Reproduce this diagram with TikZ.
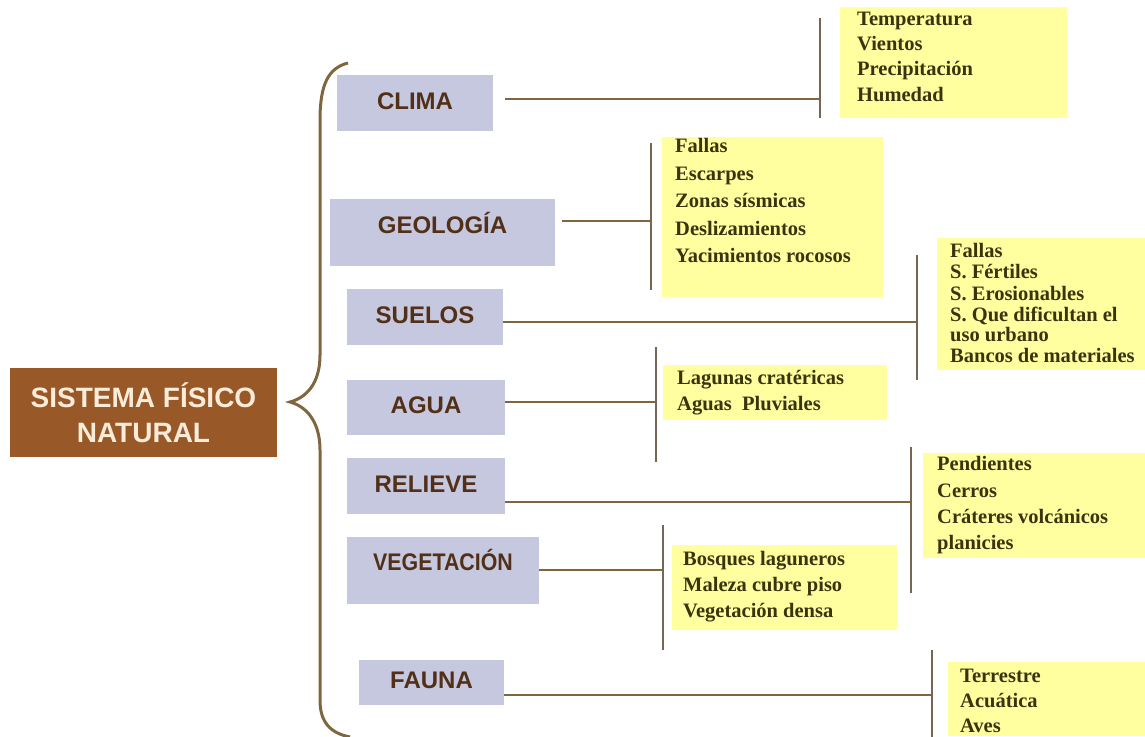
\documentclass[tikz,border=0pt]{standalone}
\usepackage{graphicx}
\usepackage{fontspec}
\setmainfont{Liberation Serif}
\setsansfont{Liberation Sans}
\usepackage{tikz}
\usetikzlibrary{positioning}
\definecolor{cafe}{RGB}{152,88,40}
\definecolor{crema}{RGB}{250,236,216}
\definecolor{lavanda}{RGB}{198,200,224}
\definecolor{amarillo}{RGB}{255,255,160}
\definecolor{linea}{RGB}{128,102,62}
\definecolor{gris}{RGB}{118,102,86}
\definecolor{tcat}{RGB}{82,48,24}
\definecolor{tlista}{RGB}{58,52,14}
\tikzset{
    principal/.style={fill=cafe, text=crema, font=\sffamily\bfseries\fontsize{28}{35}\selectfont, align=center, inner sep=0pt},
    categoria/.style={fill=lavanda, text=tcat, font=\sffamily\bfseries\fontsize{24}{28}\selectfont, text height=17pt, text depth=5pt, inner sep=0pt},
    caja/.style={fill=amarillo, anchor=north west, inner sep=0pt},
    lista/.style={text=tlista, align=left, anchor=north west, inner sep=0pt},
    conector/.style={draw=linea, line width=2.6pt},
    barra/.style={draw=gris, line width=2.6pt},
}
\newcommand{\lfont}[1]{\bfseries\fontsize{20.5}{#1}\selectfont}
\begin{document}
\begin{tikzpicture}[x=1pt, y=-1pt]
            \useasboundingbox (0,0) rectangle (1145,736);

            \node[principal, minimum width=267pt, minimum height=89pt] (sistema) at (143.5,412.5) {SISTEMA F\'ISICO\\NATURAL};

            \draw[linea, line width=3pt] (348,63) .. controls (328,68) and (320,85) .. (320,120) -- (320,355)
                .. controls (320,385) and (305,398) .. (290,402) .. controls (305,406) and (320,420) .. (320,450)
                -- (320,700) .. controls (320,722) and (330,733) .. (350,737);

            \node[categoria, minimum width=156pt, minimum height=56pt] (clima) at (415,103) {CLIMA};
            \node[categoria, minimum width=225pt, minimum height=67pt, text depth=15pt] (geologia) at (442.5,232.5) {GEOLOG\'IA};
            \node[categoria, minimum width=156pt, minimum height=56pt] (suelos) at (425,317) {SUELOS};
            \node[categoria, minimum width=158pt, minimum height=55pt] (agua) at (426,407.5) {AGUA};
            \node[categoria, minimum width=158pt, minimum height=56pt] (relieve) at (426,486) {RELIEVE};
            \node[categoria, minimum width=192pt, minimum height=67pt, text depth=17pt] (vegetacion) at (443,570.5) {\scalebox{0.89}[1]{VEGETACI\'ON}};
            \node[categoria, minimum width=145pt, minimum height=45pt] (fauna) at (431.5,682.5) {FAUNA};

            \node[caja, minimum width=227pt, minimum height=111pt] (climaC) at (840,7) {};
            \node[caja, minimum width=221pt, minimum height=160pt] (geologiaC) at (662,137) {};
            \node[caja, minimum width=208pt, minimum height=132pt] (suelosC) at (937,238) {};
            \node[caja, minimum width=224pt, minimum height=55pt] (aguaC) at (663,365) {};
            \node[caja, minimum width=222pt, minimum height=105pt] (relieveC) at (923,453) {};
            \node[caja, minimum width=225pt, minimum height=85pt] (vegetacionC) at (672,545) {};
            \node[caja, minimum width=197pt, minimum height=74pt] (faunaC) at (948,662) {};

            \node[lista, font=\lfont{25.3}] (climaT) at (857,11.5) {Temperatura\\Vientos\\Precipitaci\'on\\Humedad};
            \node[lista, font=\lfont{27.5}] (geologiaT) at (675,138.5) {Fallas\\Escarpes\\Zonas s\'ismicas\\Deslizamientos\\Yacimientos rocosos};
            \node[lista, font=\lfont{21.5}] (suelosT) at (950,243) {Fallas\\S. F\'ertiles\\S. Erosionables\\S. Que dificultan el\\[-2pt]uso urbano\\Bancos de materiales};
            \node[lista, font=\lfont{26}] (aguaT) at (677,370.5) {Lagunas crat\'ericas\\Aguas\ \ Pluviales};
            \node[lista, font=\lfont{26.3}] (relieveT) at (937,456.5) {Pendientes\\Cerros\\Cr\'ateres volc\'anicos\\planicies};
            \node[lista, font=\lfont{26}] (vegetacionT) at (683,551.5) {Bosques laguneros\\Maleza cubre piso\\Vegetaci\'on densa};
            \node[lista, font=\lfont{25}] (faunaT) at (960,668.5) {Terrestre\\Acu\'atica\\Aves};

            \coordinate (climaA) at (820,18);
            \coordinate (climaB) at (820,118);
            \coordinate (climaJ) at (820,99);
            \coordinate (geologiaA) at (651,143);
            \coordinate (geologiaB) at (651,290);
            \coordinate (geologiaJ) at (651,221);
            \coordinate (suelosA) at (917,255);
            \coordinate (suelosB) at (917,380);
            \coordinate (suelosJ) at (917,322);
            \coordinate (aguaA) at (656,347);
            \coordinate (aguaB) at (656,462);
            \coordinate (aguaJ) at (656,402);
            \coordinate (relieveA) at (911,447);
            \coordinate (relieveB) at (911,593);
            \coordinate (relieveJ) at (911,502);
            \coordinate (vegetacionA) at (663,525);
            \coordinate (vegetacionB) at (663,650);
            \coordinate (vegetacionJ) at (663,570);
            \coordinate (faunaA) at (932,650);
            \coordinate (faunaB) at (932,740);
            \coordinate (faunaJ) at (932,695);

            \foreach \c in {clima,geologia,suelos,agua,relieve,vegetacion,fauna}
                \draw[barra] (\c A) -- (\c B);

            \draw[conector, shorten <=12pt] (clima.east |- climaJ) -- (climaJ);
            \draw[conector, shorten <=7pt] (geologia.east |- geologiaJ) -- (geologiaJ);
            \draw[conector] (suelos.east |- suelosJ) -- (suelosJ);
            \draw[conector] (agua.east |- aguaJ) -- (aguaJ);
            \draw[conector] (relieve.east |- relieveJ) -- (relieveJ);
            \draw[conector] (vegetacion.east |- vegetacionJ) -- (vegetacionJ);
            \draw[conector] (fauna.east |- faunaJ) -- (faunaJ);
        \end{tikzpicture}
\end{document}
